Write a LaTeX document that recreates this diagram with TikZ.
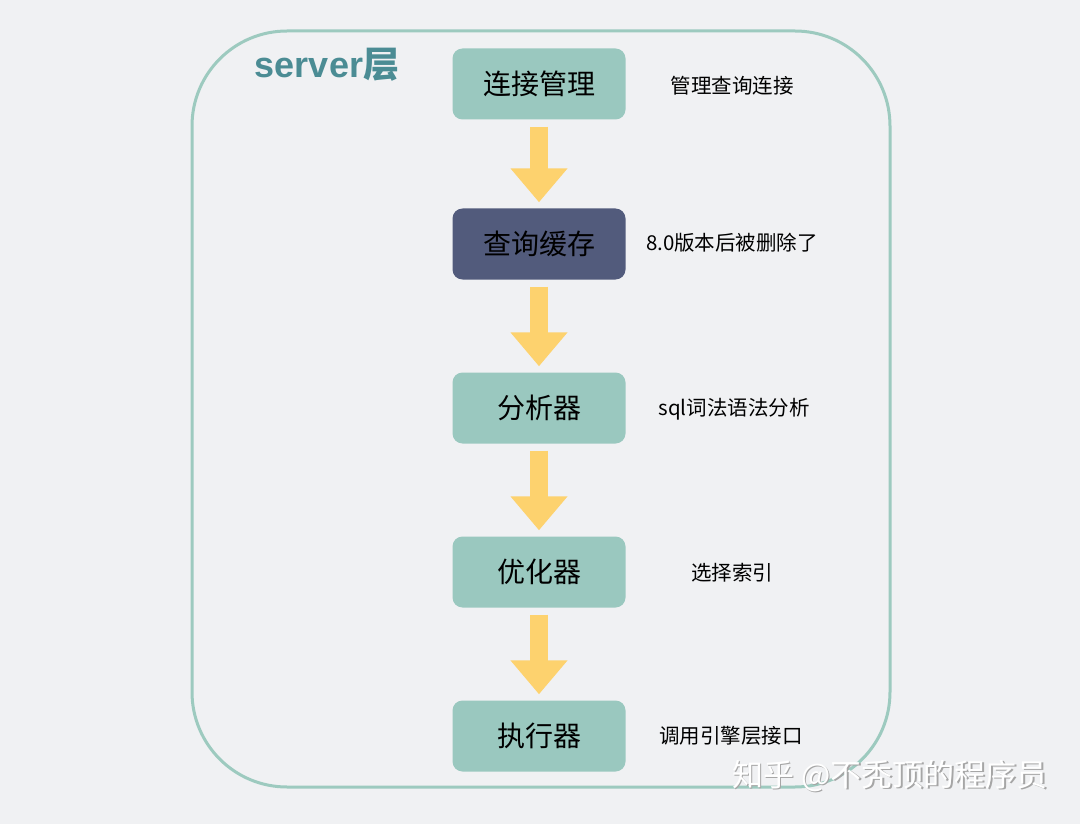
\documentclass[tikz,border=0pt]{standalone}
\usepackage{fontspec}
\setmainfont{Noto Sans CJK SC}
\newfontfamily\latinsans{Liberation Sans}
\usetikzlibrary{arrows.meta}

\definecolor{pagebg}{HTML}{F0F1F3}
\definecolor{framegreen}{HTML}{9DCABF}
\definecolor{stagegreen}{HTML}{9AC8BF}
\definecolor{stagenavy}{HTML}{525B7C}
\definecolor{flowyellow}{HTML}{FDD26E}
\definecolor{titleteal}{HTML}{4B8C94}

\tikzset{
  stage/.style={fill=stagegreen, rounded corners=10pt, minimum width=173pt,
    minimum height=71pt, inner sep=0pt, font=\fontsize{28}{32}\selectfont},
  stagedark/.style={stage, fill=stagenavy},
  note/.style={font=\fontsize{20.5}{24}\selectfont, inner sep=0pt},
  flow/.style={flowyellow, line width=18pt,
    -{Triangle[width=55pt,length=34pt]}},
}

\begin{document}
\begin{tikzpicture}[x=1pt,y=1pt]

    \fill [pagebg] (0,0) rectangle (1080,-824);
    \useasboundingbox (0,0) rectangle (1080,-824);

    % outer frame of the server layer
    \draw [framegreen, line width=3pt, rounded corners=95pt] (192,-31) rectangle (890,-787);
    \node (title) [text=titleteal, font=\fontsize{36}{40}\selectfont\bfseries, inner sep=0pt] at (327,-65) {{\latinsans server}层};

    % the stages
    \node (conn)   [stage]     at (539,-84)  {连接管理};
    \node (cache)  [stagedark] at (539,-244) {查询缓存};
    \node (parse)  [stage]     at (539,-408) {分析器};
    \node (optim)  [stage]     at (539,-572) {优化器};
    \node (exec)   [stage]     at (539,-736) {执行器};

    % notes beside the stages
    \node (connnote)  [note] at (732,-86)  {管理查询连接};
    \node (cachenote) [note] at (732,-243) {8.0版本后被删除了};
    \node (parsenote) [note] at (734,-409) {sql词法语法分析};
    \node (optimnote) [note] at (732,-573) {选择索引};
    \node (execnote)  [note] at (731,-736) {调用引擎层接口};

    % arrows between the stages
    \draw [flow] ([yshift=-7pt]conn.south)  -- ([yshift=6pt]cache.north);
    \draw [flow] ([yshift=-7pt]cache.south) -- ([yshift=6pt]parse.north);
    \draw [flow] ([yshift=-7pt]parse.south) -- ([yshift=6pt]optim.north);
    \draw [flow] ([yshift=-7pt]optim.south) -- ([yshift=6pt]exec.north);

    % watermark
    \node (markshadow) [text=black!35, font=\fontsize{31}{34}\selectfont] at (891.5,-777.5) {知乎 @不秃顶的程序员};
    \node (mark) [text=white, font=\fontsize{31}{34}\selectfont] at (890,-776) {知乎 @不秃顶的程序员};

\end{tikzpicture}
\end{document}
